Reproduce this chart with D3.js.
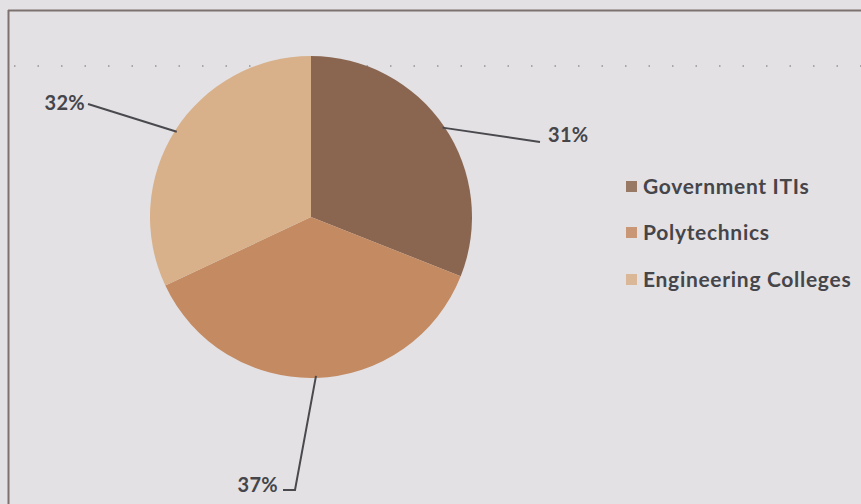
<!DOCTYPE html>
<html><head><meta charset="utf-8">
<script src="https://cdn.jsdelivr.net/npm/d3@7"></script>
<style>html,body{margin:0;padding:0;background:#e3e1e4;}svg{display:block}</style>
</head><body>
<svg id="c" width="861" height="504"></svg>
<script>
const categories = ["Government ITIs", "Polytechnics", "Engineering Colleges"];
const values = [31, 37, 32];
const labels = ["31%", "37%", "32%"];
const colors = ["#8a6650", "#c48a62", "#d8b089"];

const svg = d3.select("#c");
svg.append("rect").attr("width",861).attr("height",504).attr("fill","#e3e1e4");
// frame
svg.append("line").attr("x1",8).attr("x2",861).attr("y1",10.5).attr("y2",10.5).attr("stroke","#7d7270").attr("stroke-width",2);
svg.append("line").attr("x1",8.5).attr("x2",8.5).attr("y1",10).attr("y2",504).attr("stroke","#7d7270").attr("stroke-width",2);
// faint dotted line
svg.append("line").attr("x1",14).attr("x2",861).attr("y1",66).attr("y2",66)
  .attr("stroke","#aaa5a9").attr("stroke-width",2).attr("stroke-dasharray","1.5,22");

const cx = 311, cy = 217, r = 161;
const pie = d3.pie().sort(null).value(d=>d)(values);
const arc = d3.arc().innerRadius(0).outerRadius(r);
const g = svg.append("g").attr("transform",`translate(${cx},${cy})`);
g.selectAll("path").data(pie).join("path").attr("d",arc).attr("fill",(d,i)=>colors[i]);

// leader lines & labels
const labelLayout = [
  {end:[540,142], textX:548, textY:142, anchor:"start"},
  {end:[295,490], elbow:[283,490], textX:278, textY:492, anchor:"end"},
  {end:[88,104], textX:85, textY:110, anchor:"end"}
];
pie.forEach((d,i)=>{
  const a = (d.startAngle+d.endAngle)/2;
  const sx = cx + (r-2)*Math.sin(a), sy = cy - (r-2)*Math.cos(a);
  const L = labelLayout[i];
  const pts = [[sx,sy], L.end];
  if (L.elbow) pts.push(L.elbow);
  svg.append("path").attr("d", d3.line()(pts)).attr("fill","none")
    .attr("stroke","#4a4a4e").attr("stroke-width",2);
  svg.append("text").attr("x",L.textX).attr("y",L.textY).attr("text-anchor",L.anchor)
    .attr("font-family","Lato, 'Open Sans', sans-serif").attr("font-weight","bold")
    .attr("font-size",20).attr("letter-spacing",0.3).attr("fill","#45454a").text(labels[i]);
});

// legend
const ly = [187, 233, 280];
categories.forEach((c,i)=>{
  svg.append("rect").attr("x",626).attr("y",ly[i]-6).attr("width",11).attr("height",11).attr("fill",colors[i]).attr("opacity",0.85);
  svg.append("text").attr("x",643).attr("y",ly[i]+7)
    .attr("font-family","Lato, 'Open Sans', sans-serif").attr("font-weight","bold")
    .attr("font-size",21).attr("letter-spacing",0.7).attr("fill","#45454a").text(c);
});
</script>
</body></html>
